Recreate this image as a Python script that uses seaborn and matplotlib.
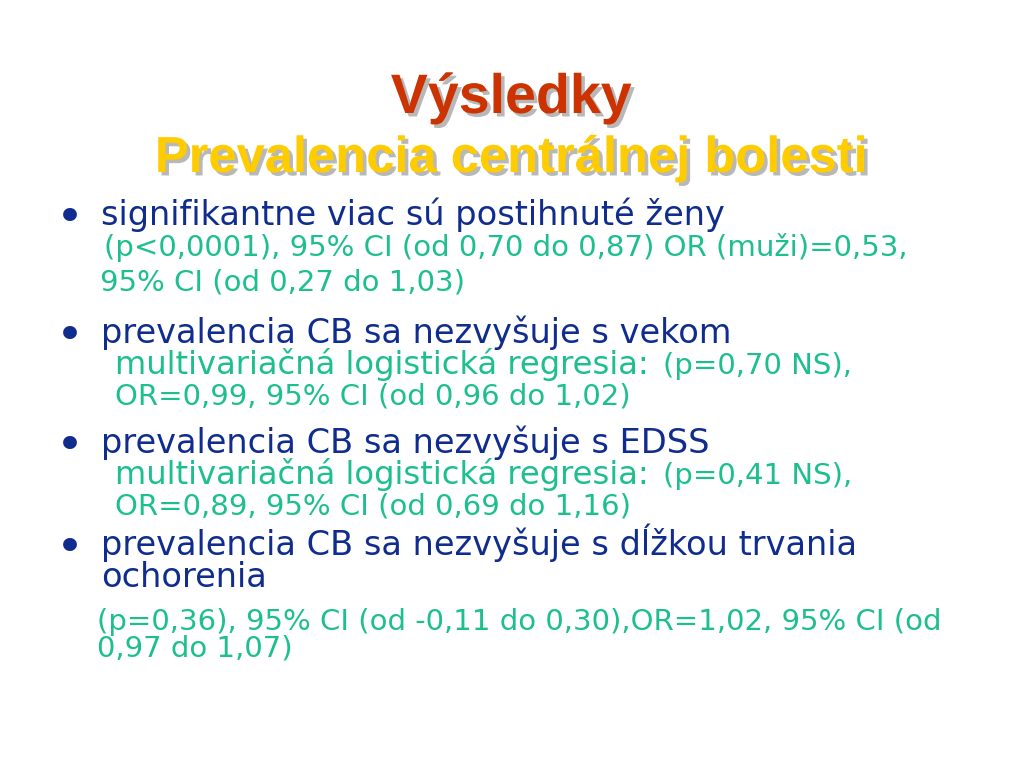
import matplotlib
matplotlib.use("Agg")
import matplotlib.pyplot as plt
import matplotlib.patheffects as pe
import seaborn as sns

# ---- slide content ----
title_lines = ["Výsledky", "Prevalencia centrálnej bolesti"]
bullets = [
    "signifikantne viac sú postihnuté ženy",
    "prevalencia CB sa nezvyšuje s vekom",
    "prevalencia CB sa nezvyšuje s EDSS",
    "prevalencia CB sa nezvyšuje s dĺžkou trvania",
    "ochorenia",
]
detail_1 = ["(p<0,0001), 95% CI (od 0,70 do 0,87) OR (muži)=0,53,",
            "95% CI (od 0,27 do 1,03)"]
method_label = "multivariačná logistická regresia:"
detail_2 = ["(p=0,70 NS),", "OR=0,99, 95% CI (od 0,96 do 1,02)"]
detail_3 = ["(p=0,41 NS),", "OR=0,89, 95% CI (od 0,69 do 1,16)"]
detail_4 = ["(p=0,36), 95% CI (od -0,11 do 0,30),OR=1,02, 95% CI (od",
            "0,97 do 1,07)"]

RED = "#CC3300"
GOLD = "#FFCC00"
NAVY = "#0F2C8E"
GREEN = "#1DBF8F"

sns.set_theme(style="white")
plt.rcParams["font.family"] = ["DejaVu Sans"]

fig = plt.figure(figsize=(10.24, 7.68), dpi=100)
fig.patch.set_facecolor("white")
ax = fig.add_axes([0, 0, 1, 1])
ax.set_xlim(0, 1024)
ax.set_ylim(768, 0)
ax.axis("off")

shadow = [pe.withSimplePatchShadow(offset=(2.5, -2.5), shadow_rgbFace="#a0a0a0", alpha=0.75)]
title_font = "Liberation Sans"
ax.text(511, 113, title_lines[0], ha="center", va="baseline", fontsize=40,
        fontweight="bold", color=RED, family=title_font, path_effects=shadow)
ax.text(512, 172, title_lines[1], ha="center", va="baseline", fontsize=36.5,
        fontweight="bold", color=GOLD, family=title_font, path_effects=shadow)

BIG = 24.2
MID = 23.2
SMALL = 21.0

renderer = fig.canvas.get_renderer()

def bullet(y, text):
    ax.text(70, y + 7, "•", ha="center", va="baseline", fontsize=34, color=NAVY)
    ax.text(101, y, text, ha="left", va="baseline", fontsize=BIG, color=NAVY)

def green(x, y, text, size=SMALL):
    return ax.text(x, y, text, ha="left", va="baseline", fontsize=size, color=GREEN)

def method_line(y, ptext):
    t = green(115, y, method_label, MID)
    ext = t.get_window_extent(renderer=renderer)
    x_end = ax.transData.inverted().transform((ext.x1, 0))[0]
    green(x_end + 14, y, ptext, SMALL)

# bullet 1
bullet(225, bullets[0])
green(104, 256, detail_1[0])
green(100, 290, detail_1[1])

# bullet 2
bullet(343, bullets[1])
method_line(374, detail_2[0])
green(115, 405, detail_2[1])

# bullet 3
bullet(453, bullets[2])
method_line(484, detail_3[0])
green(115, 515, detail_3[1])

# bullet 4
bullet(555, bullets[3])
ax.text(101, 587, bullets[4], ha="left", va="baseline", fontsize=BIG, color=NAVY)
green(97, 630, detail_4[0])
green(97, 657, detail_4[1])

fig.savefig("out.png", dpi=100, facecolor="white")
